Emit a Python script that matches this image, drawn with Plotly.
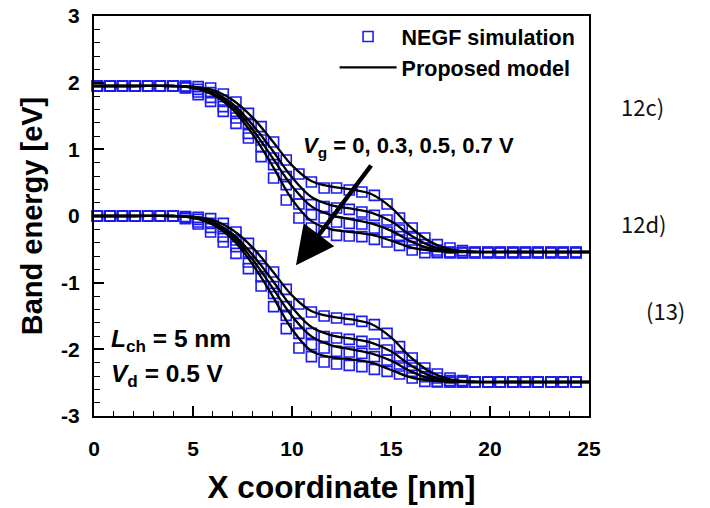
import plotly.graph_objects as go

# ---------------- data ----------------
X_NEGF = [0.17, 0.81, 1.44, 2.08, 2.71, 3.35, 3.99, 4.62, 5.26, 5.89, 6.53, 7.17, 7.80,
          8.44, 9.07, 9.71, 10.35, 10.98, 11.62, 12.25, 12.89, 13.53, 14.16, 14.80,
          15.43, 16.07, 16.71, 17.34, 17.98, 18.61, 19.25, 19.89, 20.52, 21.16, 21.79,
          22.43, 23.07, 23.70, 24.34]

VG_LABELS = ["0", "0.3", "0.5", "0.7"]

# conduction band, NEGF
CB_NEGF_VG0 = [1.95, 1.95, 1.95, 1.95, 1.95, 1.95, 1.95, 1.95, 1.94, 1.92, 1.83, 1.71, 1.54,
               1.34, 1.11, 0.84, 0.63, 0.51, 0.42, 0.42, 0.39, 0.36, 0.31, 0.18, -0.03,
               -0.18, -0.33, -0.43, -0.48, -0.52, -0.54, -0.54, -0.54, -0.54, -0.54, -0.54,
               -0.54, -0.54, -0.54]
CB_NEGF_VG03 = [1.95, 1.95, 1.95, 1.95, 1.95, 1.95, 1.95, 1.94, 1.90, 1.85, 1.74, 1.57, 1.37,
                1.14, 0.87, 0.59, 0.33, 0.17, 0.14, 0.12, 0.10, 0.06, 0.01, -0.06, -0.21,
                -0.31, -0.43, -0.51, -0.54, -0.55, -0.55, -0.55, -0.55, -0.55, -0.55, -0.55,
                -0.55, -0.55, -0.55]
CB_NEGF_VG05 = [1.95, 1.95, 1.95, 1.95, 1.95, 1.95, 1.95, 1.93, 1.86, 1.78, 1.64, 1.47, 1.24,
                1.04, 0.77, 0.47, 0.18, 0.02, -0.03, -0.09, -0.11, -0.12, -0.18, -0.24, -0.31,
                -0.41, -0.48, -0.54, -0.55, -0.55, -0.55, -0.55, -0.55, -0.55, -0.55, -0.55,
                -0.55, -0.55, -0.55]
CB_NEGF_VG07 = [1.95, 1.95, 1.95, 1.95, 1.95, 1.95, 1.95, 1.92, 1.82, 1.72, 1.57, 1.39, 1.17,
                0.89, 0.57, 0.24, -0.03, -0.18, -0.24, -0.29, -0.30, -0.31, -0.35, -0.39, -0.44,
                -0.51, -0.55, -0.55, -0.55, -0.55, -0.55, -0.55, -0.55, -0.55, -0.55, -0.55,
                -0.55, -0.55, -0.55]

# valence band, NEGF
VB_NEGF_VG0 = [0.0, 0.0, 0.0, 0.0, 0.0, 0.0, 0.0, -0.01, -0.02, -0.04, -0.11, -0.24, -0.41,
               -0.60, -0.84, -1.10, -1.32, -1.44, -1.50, -1.53, -1.55, -1.58, -1.63, -1.76,
               -1.96, -2.13, -2.28, -2.37, -2.43, -2.47, -2.49, -2.49, -2.49, -2.49, -2.49,
               -2.49, -2.49, -2.49, -2.49]
VB_NEGF_VG03 = [0.0, 0.0, 0.0, 0.0, 0.0, 0.0, 0.0, -0.02, -0.05, -0.11, -0.19, -0.36, -0.56,
                -0.79, -1.06, -1.36, -1.61, -1.76, -1.81, -1.83, -1.85, -1.88, -1.92, -2.01,
                -2.13, -2.24, -2.36, -2.43, -2.47, -2.49, -2.49, -2.49, -2.49, -2.49, -2.49,
                -2.49, -2.49, -2.49, -2.49]
VB_NEGF_VG05 = [0.0, 0.0, 0.0, 0.0, 0.0, 0.0, 0.0, -0.03, -0.09, -0.17, -0.31, -0.46, -0.69,
                -0.91, -1.16, -1.49, -1.76, -1.93, -1.98, -2.03, -2.04, -2.06, -2.11, -2.16,
                -2.25, -2.33, -2.41, -2.48, -2.49, -2.49, -2.49, -2.49, -2.49, -2.49, -2.49,
                -2.49, -2.49, -2.49, -2.49]
VB_NEGF_VG07 = [0.0, 0.0, 0.0, 0.0, 0.0, 0.0, 0.0, -0.04, -0.12, -0.24, -0.39, -0.56, -0.79,
                -1.05, -1.36, -1.69, -1.98, -2.11, -2.19, -2.22, -2.24, -2.26, -2.30, -2.33,
                -2.37, -2.43, -2.48, -2.49, -2.49, -2.49, -2.49, -2.49, -2.49, -2.49, -2.49,
                -2.49, -2.49, -2.49, -2.49]

# proposed model (smooth lines)
X_MODEL = [0, 2, 4, 5, 6, 7, 8, 9, 10, 11, 12, 13, 14, 15, 16, 17, 18, 19, 21, 25]
CB_MODEL_VG0 = [1.95, 1.95, 1.95, 1.94, 1.89, 1.74, 1.48, 1.13, 0.76, 0.52, 0.44, 0.40, 0.33,
                0.13, -0.17, -0.39, -0.50, -0.53, -0.54, -0.54]
CB_MODEL_VG03 = [1.95, 1.95, 1.95, 1.93, 1.86, 1.68, 1.37, 0.99, 0.58, 0.28, 0.16, 0.11, 0.05,
                 -0.08, -0.29, -0.45, -0.52, -0.54, -0.54, -0.54]
CB_MODEL_VG05 = [1.95, 1.95, 1.95, 1.93, 1.84, 1.64, 1.30, 0.88, 0.45, 0.14, 0.01, -0.05, -0.11,
                 -0.22, -0.38, -0.49, -0.53, -0.54, -0.54, -0.54]
CB_MODEL_VG07 = [1.95, 1.95, 1.95, 1.92, 1.82, 1.60, 1.23, 0.76, 0.25, -0.08, -0.20, -0.24,
                 -0.28, -0.37, -0.47, -0.52, -0.54, -0.54, -0.54, -0.54]
VB_MODEL_VG0 = [0.0, 0.0, 0.0, -0.01, -0.06, -0.21, -0.47, -0.82, -1.19, -1.43, -1.51, -1.55,
                -1.62, -1.82, -2.12, -2.34, -2.45, -2.48, -2.49, -2.49]
VB_MODEL_VG03 = [0.0, 0.0, 0.0, -0.02, -0.09, -0.27, -0.58, -0.96, -1.37, -1.67, -1.79, -1.84,
                 -1.90, -2.03, -2.24, -2.40, -2.47, -2.49, -2.49, -2.49]
VB_MODEL_VG05 = [0.0, 0.0, 0.0, -0.02, -0.11, -0.31, -0.65, -1.07, -1.50, -1.81, -1.94, -2.00,
                 -2.06, -2.17, -2.33, -2.44, -2.48, -2.49, -2.49, -2.49]
VB_MODEL_VG07 = [0.0, 0.0, 0.0, -0.03, -0.13, -0.35, -0.72, -1.19, -1.70, -2.03, -2.12, -2.15,
                 -2.20, -2.31, -2.42, -2.47, -2.49, -2.49, -2.49, -2.49]

X_TICKS = [0, 5, 10, 15, 20, 25]
X_TICK_TEXT = ["0", "5", "10", "15", "20", "25"]
Y_TICKS = [-3, -2, -1, 0, 1, 2, 3]
Y_TICK_TEXT = ["-3", "-2", "-1", "0", "1", "2", "3"]

SIDE_TEXTS = ["12c)", "12d)", "(13)"]

NEGF_SETS = [CB_NEGF_VG0, CB_NEGF_VG03, CB_NEGF_VG05, CB_NEGF_VG07,
             VB_NEGF_VG0, VB_NEGF_VG03, VB_NEGF_VG05, VB_NEGF_VG07]
MODEL_SETS = [CB_MODEL_VG0, CB_MODEL_VG03, CB_MODEL_VG05, CB_MODEL_VG07,
              VB_MODEL_VG0, VB_MODEL_VG03, VB_MODEL_VG05, VB_MODEL_VG07]

# ---------------- figure ----------------
FONT = "Liberation Sans, Arial, sans-serif"
BLUE = "#1c1cf0"
ML, MR, MT, MB = 94, 121, 16, 92
PW, PH = 710 - ML - MR, 508 - MT - MB

fig = go.Figure()
for k, ys in enumerate(NEGF_SETS):
    fig.add_trace(go.Scatter(
        x=X_NEGF, y=ys, mode="markers", name="NEGF simulation",
        legendgroup="negf", showlegend=(k == 0),
        marker=dict(symbol="square-open", size=10, color=BLUE,
                    line=dict(width=1.6, color=BLUE)),
        cliponaxis=False))
for k, ys in enumerate(MODEL_SETS):
    fig.add_trace(go.Scatter(
        x=X_MODEL, y=ys, mode="lines", name="Proposed model",
        legendgroup="model", showlegend=(k == 0),
        line=dict(color="black", width=2.3, shape="spline", smoothing=1.0)))

axis_common = dict(
    showline=True, linecolor="black", linewidth=2.2, mirror=True,
    ticks="inside", tickcolor="black", tickwidth=1.6, ticklen=10,
    showgrid=False, zeroline=False, automargin=False,
    tickfont=dict(family=FONT, size=21, color="black", weight="bold"),
)

fig.update_xaxes(
    range=[0, 25], tickvals=X_TICKS, ticktext=X_TICK_TEXT,
    minor=dict(ticks="inside", dtick=1, ticklen=5, tickcolor="black", tickwidth=1.4),
    title=dict(text="X coordinate [nm]", standoff=17,
               font=dict(family=FONT, size=31.5, color="black", weight="bold")),
    ticklabelstandoff=13,
    **axis_common)
fig.update_yaxes(
    range=[-3, 3], tickvals=Y_TICKS, ticktext=Y_TICK_TEXT,
    minor=dict(ticks="inside", dtick=0.2, ticklen=6, tickcolor="black", tickwidth=1.4),
    title=dict(text="Band energy [eV]", standoff=10,
               font=dict(family=FONT, size=29, color="black", weight="bold")),
    ticklabelstandoff=8,
    **axis_common)

ann_font = dict(family=FONT, size=22, color="black", weight="bold")
fig.add_annotation(x=10.2, y=-0.74, ax=14.05, ay=0.78, xref="x", yref="y",
                   axref="x", ayref="y", text="", showarrow=True,
                   arrowhead=2, arrowsize=1.7, arrowwidth=4.5, arrowcolor="black")
fig.add_annotation(x=10.45, y=1.035, xref="x", yref="y", xanchor="left", yanchor="middle",
                   text="<i>V</i><sub>g</sub> = 0, 0.3, 0.5, 0.7 V", showarrow=False,
                   font=ann_font)
fig.add_annotation(x=0.75, y=-1.86, xref="x", yref="y", xanchor="left", yanchor="middle",
                   text="<i>L</i><sub>ch</sub> = 5 nm", showarrow=False,
                   font=dict(ann_font, size=24.5))
fig.add_annotation(x=0.75, y=-2.39, xref="x", yref="y", xanchor="left", yanchor="middle",
                   text="<i>V</i><sub>d</sub> = 0.5 V", showarrow=False,
                   font=dict(ann_font, size=24.5))

side_font = dict(family="Noto Sans CJK KR, Noto Sans, DejaVu Sans, sans-serif", size=22,
                 color="#111111")
for txt, px, py in zip(SIDE_TEXTS, [619, 619, 644], [106, 223, 310]):
    fig.add_annotation(x=(px - ML) / PW, y=(MT + PH - py) / PH, xref="paper", yref="paper",
                       xanchor="left", yanchor="middle", text=txt, showarrow=False,
                       font=side_font)

fig.update_layout(
    width=710, height=508,
    margin=dict(l=ML, r=MR, t=MT, b=MB, autoexpand=False),
    paper_bgcolor="white", plot_bgcolor="white",
    showlegend=True,
    legend=dict(x=0.486, y=1.0, xanchor="left", yanchor="top",
                bgcolor="rgba(0,0,0,0)", borderwidth=0,
                font=dict(family=FONT, size=21.5, color="black", weight="bold"),
                itemwidth=57, tracegroupgap=0),
)

fig.write_html("out.html", config={"displayModeBar": False},
               post_script="document.body.style.margin='0';document.body.style.padding='0';")
